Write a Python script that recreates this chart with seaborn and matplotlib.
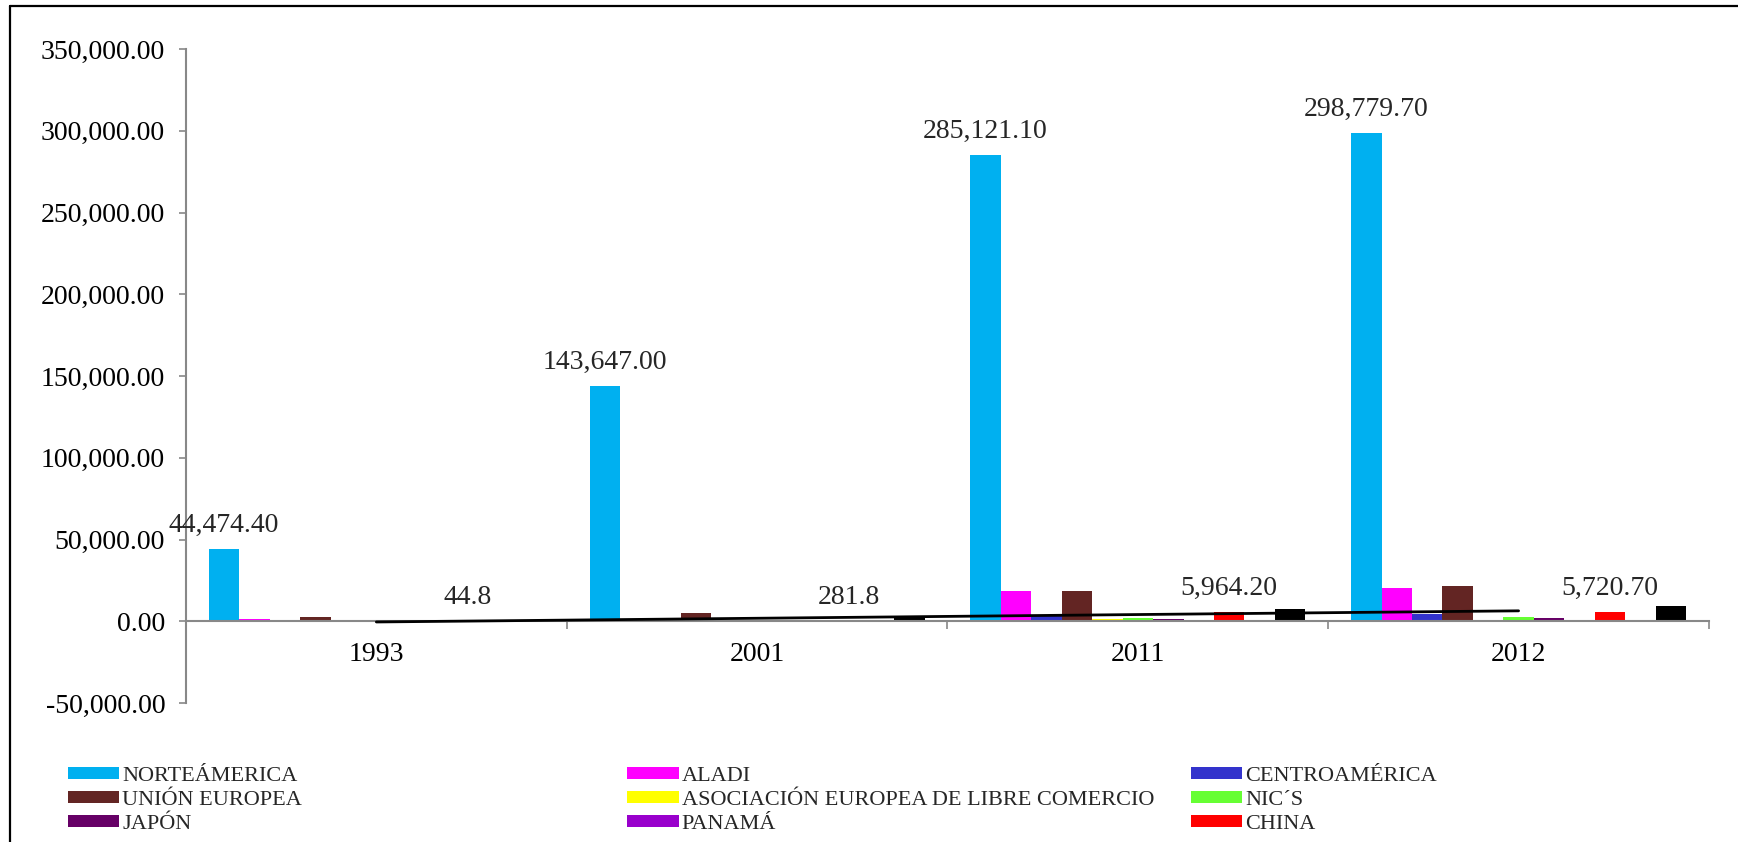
import numpy as np
import pandas as pd
import seaborn as sns
import matplotlib.pyplot as plt
from matplotlib.lines import Line2D
from matplotlib.patches import Patch
from matplotlib.ticker import FuncFormatter, FixedLocator

years = ["1993", "2001", "2011", "2012"]
series_names = ["NORTEÁMERICA", "ALADI", "CENTROAMÉRICA", "UNIÓN EUROPEA",
                "ASOCIACIÓN EUROPEA DE LIBRE COMERCIO", "NIC´S", "JAPÓN",
                "PANAMÁ", "CHINA", "SERIE 10", "SERIE 11"]
norteamerica = [44474.4, 143647.0, 285121.1, 298779.7]
aladi = [1400, 1650, 18800, 20400]
centroamerica = [300, 500, 3900, 4300]
union_europea = [2450, 5000, 18400, 21400]
aelc = [50, 200, 1200, 600]
nics = [100, 400, 2250, 2850]
japon = [300, 300, 1650, 1840]
panama = [200, 300, 800, 800]
china = [44.8, 281.8, 5964.2, 5720.7]
serie10 = [0, 0, 0, 0]
serie11 = [300, 1850, 7600, 9600]
colors = ["#00B0F0", "#FF00FF", "#3333CC", "#632523", "#FFFF00", "#66FF33",
          "#660066", "#9900CC", "#FF0000", "#FFFFFF", "#000000"]
norte_labels = ["44,474.40", "143,647.00", "285,121.10", "298,779.70"]
china_labels = ["44.8", "281.8", "5,964.20", "5,720.70"]

values = [norteamerica, aladi, centroamerica, union_europea, aelc, nics,
          japon, panama, china, serie10, serie11]
rows = []
for name, vals in zip(series_names, values):
    for y, v in zip(years, vals):
        rows.append({"year": y, "region": name, "value": v})
df = pd.DataFrame(rows)

sns.set_theme(style="white")
plt.rcParams["font.family"] = ["Liberation Serif", "DejaVu Serif"]

fig, ax = plt.subplots(figsize=(17.38, 8.42), dpi=100)
fig.subplots_adjust(left=0.107, right=0.9833, top=0.9418, bottom=0.165)

sns.barplot(data=df, x="year", y="value", hue="region", hue_order=series_names,
            palette=dict(zip(series_names, colors)), saturation=1, width=0.88,
            gap=0, legend=False, ax=ax, linewidth=0, errorbar=None)

# linear trend of China across the category centres
xs = np.arange(len(years))
coef = np.polyfit(xs, china, 1)
ax.plot(xs, np.polyval(coef, xs), color="black", lw=2, zorder=5)

ax.bar_label(ax.containers[0], labels=norte_labels, padding=8, fontsize=20)
ax.bar_label(ax.containers[8], labels=china_labels, padding=8, fontsize=20)

ax.set_ylim(-50000, 350000)
ax.set_xlim(-0.5, len(years) - 0.5)
ax.set_yticks(np.arange(-50000, 350001, 50000))
ax.yaxis.set_major_formatter(FuncFormatter(lambda v, p: f"{v:,.2f}"))
ax.set_xlabel("")
ax.set_ylabel("")

for s in ["top", "right"]:
    ax.spines[s].set_visible(False)
ax.spines["left"].set_color("#888888")
ax.spines["bottom"].set_color("#888888")
ax.spines["bottom"].set_position(("data", 0))
ax.spines["left"].set_linewidth(1.5)
ax.spines["bottom"].set_linewidth(1.5)

ax.tick_params(axis="y", left=True, direction="out", length=5, width=1.2,
               color="#888888", pad=10, labelsize=20, labelcolor="black")
ax.xaxis.set_minor_locator(FixedLocator(np.arange(-0.5, len(years), 1)))
ax.tick_params(axis="x", which="major", length=0, pad=15, labelsize=20,
               labelcolor="black")
ax.tick_params(axis="x", which="minor", bottom=True, direction="out", length=6,
               width=1.2, color="#888888")

# legend in three columns, placed like the original
cols = [[0, 3, 6], [1, 4, 7], [2, 5, 8]]
xpos = [0.039, 0.361, 0.685]
for idx, xp in zip(cols, xpos):
    handles = [Patch(facecolor=colors[i], edgecolor="none") for i in idx]
    labels = [series_names[i] for i in idx]
    leg = fig.legend(handles, labels, loc="upper left", bbox_to_anchor=(xp, 0.089),
                     frameon=False, fontsize=16, handlelength=2.3, handleheight=0.45,
                     handletextpad=0.15, labelspacing=0.22, borderpad=0,
                     borderaxespad=0)

# chart border (only top and left visible in the crop)
fig.add_artist(Line2D([10 / 1738, 10 / 1738], [0, 1 - 6 / 842], color="black",
                      lw=1.6, transform=fig.transFigure))
fig.add_artist(Line2D([10 / 1738, 1], [1 - 6 / 842, 1 - 6 / 842], color="black",
                      lw=1.6, transform=fig.transFigure))

fig.savefig("out.png", dpi=100)
